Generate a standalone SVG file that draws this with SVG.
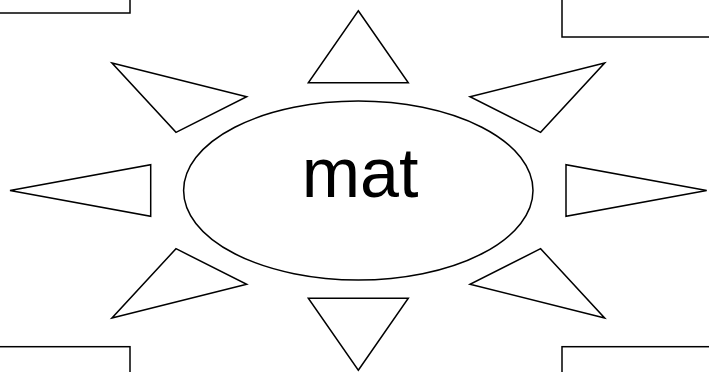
<svg xmlns="http://www.w3.org/2000/svg" width="709" height="372" viewBox="0 0 709 372">
<style>
.s{fill:#fff;stroke:#000;stroke-width:1.5;stroke-linejoin:miter}
.t{font-family:"Liberation Sans",Arial,sans-serif;font-size:70px;fill:#000;text-anchor:middle}
</style>
<rect width="709" height="372" fill="#fff"/>
<g id="rect-tl"><rect class="s" x="-10" y="-10" width="140" height="23"/></g>
<g id="rect-tr"><rect class="s" x="562" y="-10" width="160" height="47"/></g>
<g id="rect-bl"><rect class="s" x="-10" y="346.7" width="140" height="40"/></g>
<g id="rect-br"><rect class="s" x="562" y="346.7" width="160" height="40"/></g>
<g id="tri-top"><polygon class="s" points="358.3,10.7 408.3,82.7 308.3,82.7"/></g>
<g id="tri-bottom"><polygon class="s" points="358.3,370.3 408.3,298.3 308.3,298.3"/></g>
<g id="tri-left"><polygon class="s" points="10,190.5 150.7,164.7 150.7,216.3"/></g>
<g id="tri-right"><polygon class="s" points="706.7,190.5 566,164.7 566,216.3"/></g>
<g id="tri-tl"><polygon class="s" points="112,63 246.7,96.7 176,132.3"/></g>
<g id="tri-tr"><polygon class="s" points="604.6,63 470,96.7 540.6,132.3"/></g>
<g id="tri-bl"><polygon class="s" points="112,318 246.7,284.3 176,248.7"/></g>
<g id="tri-br"><polygon class="s" points="604.6,318 470,284.3 540.6,248.7"/></g>
<g id="center"><ellipse class="s" cx="358.3" cy="190.5" rx="174.7" ry="89.5"/><text class="t" x="360" y="197">mat</text></g>
<g id="connectors"/>
</svg>
